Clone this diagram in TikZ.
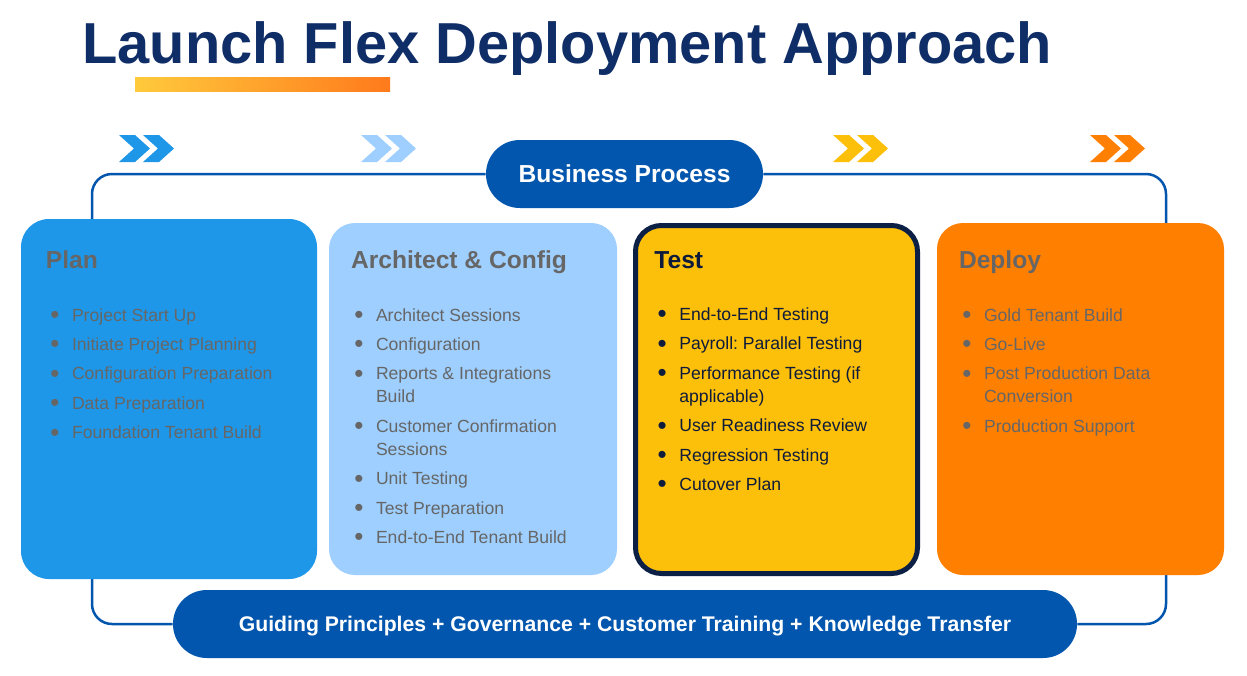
\documentclass[tikz,border=0pt]{standalone}
\usepackage{fontspec}
\setmainfont{Liberation Sans}
\usetikzlibrary{calc,positioning}

\definecolor{navy}{HTML}{0F2D66}
\definecolor{frameblue}{HTML}{0356AE}
\definecolor{planblue}{HTML}{1F97E8}
\definecolor{archblue}{HTML}{9ECFFF}
\definecolor{testyellow}{HTML}{FCBF0A}
\definecolor{deployorange}{HTML}{FF7F00}
\definecolor{testborder}{HTML}{0C1F45}
\definecolor{bodygray}{HTML}{666666}
\definecolor{testtext}{HTML}{0F1B3A}
\definecolor{barstart}{HTML}{FFCA3C}
\definecolor{barend}{HTML}{FF7A1C}

\pgfdeclarelayer{back}
\pgfsetlayers{back,main}

\newcommand\bul{\llap{\raisebox{-1.2pt}{\fontsize{13}{13}\selectfont\textbullet}\hspace{6.3pt}}}
\newcommand\firstline{\rule{0pt}{7pt}}

\begin{document}
\begin{tikzpicture}[x=0.5pt, y=-0.5pt,
  card/.style={rounded corners=13pt, inner sep=0pt, minimum width=143.5pt, minimum height=176pt},
  cardtitle/.style={anchor=base west, inner sep=0pt, text=bodygray,
    font=\bfseries\fontsize{12.3}{14}\selectfont},
  cardlist/.style={anchor=north west, inner sep=0pt, align=left, text=bodygray,
    font=\fontsize{8.8}{11.5}\selectfont\frenchspacing},
  pill/.style={rounded corners=16.9pt, fill=frameblue, minimum height=34pt, inner sep=0pt,
    text=white, text depth=0pt},
  frame/.style={draw=frameblue, line width=1.25pt, rounded corners=10pt}]
\useasboundingbox (0,0) rectangle (1247,675);
% Title
\node[anchor=base west, inner sep=0pt, text=navy, font=\bfseries\fontsize{28.9}{34}\selectfont]
  (title) at (82,63) {Launch Flex Deployment Approach};
\shade[left color=barstart, right color=barend] (135,77) rectangle (390,91);
% Chevrons
\foreach \cx/\col in {119/planblue, 361/archblue, 833/testyellow, 1090/deployorange}
  \foreach \dx in {0,24}
    \fill[\col] (\cx+\dx,135) -- ++(16,0) -- ++(15,13.5) -- ++(-15,13.5)
      -- ++(-16,0) -- ++(15,-13.5) -- cycle;
% Pills
\node[pill, minimum width=138.5pt, text height=8.8pt,
  font=\bfseries\fontsize{12.3}{14}\selectfont] (bp) at (624.5,174) {Business Process};
\node[pill, minimum width=452pt, text height=7.6pt,
  font=\bfseries\fontsize{10.6}{12}\selectfont] (gp) at (625,624)
  {Guiding Principles + Governance + Customer Training + Knowledge Transfer};
% Frame
\coordinate (frame-left) at (92,400);
\coordinate (frame-right) at (1166,400);
\begin{pgfonlayer}{back}
\fill[white] (0,0) rectangle (1247,675);
\draw[frame] (bp.west) -| (frame-left) |- (gp.west);
\draw[frame] (bp.east) -| (frame-right) |- (gp.east);
\end{pgfonlayer}
% Plan
\node[card, fill=planblue, minimum width=148pt, minimum height=180pt, rounded corners=14pt]
  (plan) at (169,399) {};
\node[cardtitle] (plan-title) at ($(plan.north west)+(25,50)$) {Plan};
\node[cardlist] (plan-list) at ($(plan.north west)+(51,88)$)
  {\firstline\bul Project Start Up\\[3.2pt]
   \bul Initiate Project Planning\\[3.2pt]
   \bul Configuration Preparation\\[3.2pt]
   \bul Data Preparation\\[3.2pt]
   \bul Foundation Tenant Build};
% Architect & Config
\node[card, fill=archblue, minimum width=144pt] (arch) at (473,399) {};
\node[cardtitle] (arch-title) at ($(arch.north west)+(22,46)$) {Architect \& Config};
\node[cardlist] (arch-list) at ($(arch.north west)+(47,84)$)
  {\firstline\bul Architect Sessions\\[3.2pt]
   \bul Configuration\\[3.2pt]
   \bul Reports \& Integrations\\Build\\[3.2pt]
   \bul Customer Confirmation\\Sessions\\[3.2pt]
   \bul Unit Testing\\[3.2pt]
   \bul Test Preparation\\[3.2pt]
   \bul End-to-End Tenant Build};
% Test
\node[card, fill=testyellow, draw=testborder, line width=2.5pt,
  minimum width=141pt, minimum height=174pt] (test) at (776.5,399.5) {};
\node[cardtitle, text=testtext] (test-title) at ($(test.north west)+(21,45)$) {Test};
\node[cardlist, text=testtext] (test-list) at ($(test.north west)+(46,83)$)
  {\firstline\bul End-to-End Testing\\[3.2pt]
   \bul Payroll: Parallel Testing\\[3.2pt]
   \bul Performance Testing (if\\applicable)\\[3.2pt]
   \bul User Readiness Review\\[3.2pt]
   \bul Regression Testing\\[3.2pt]
   \bul Cutover Plan};
% Deploy
\node[card, fill=deployorange] (deploy) at (1080.5,399) {};
\node[cardtitle] (deploy-title) at ($(deploy.north west)+(22,46)$) {Deploy};
\node[cardlist] (deploy-list) at ($(deploy.north west)+(47,84)$)
  {\firstline\bul Gold Tenant Build\\[3.2pt]
   \bul Go-Live\\[3.2pt]
   \bul Post Production Data\\Conversion\\[3.2pt]
   \bul Production Support};
\end{tikzpicture}
\end{document}
